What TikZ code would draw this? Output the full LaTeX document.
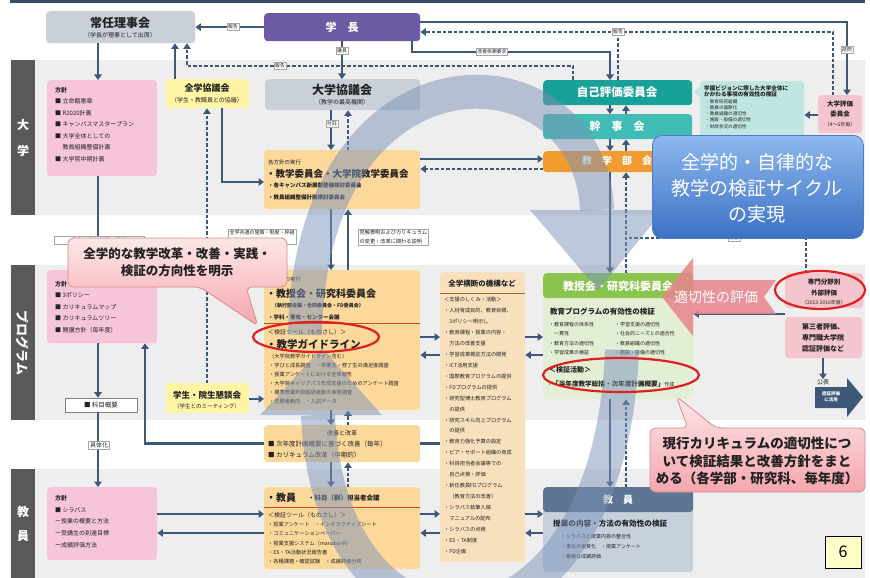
\documentclass[tikz,border=0pt]{standalone}
\usepackage{fontspec}
\setmainfont{Noto Sans CJK JP}
\usetikzlibrary{arrows.meta,shapes.geometric,calc}
\definecolor{bandbg}{HTML}{EFEEEE}
\definecolor{barc}{HTML}{58595B}
\definecolor{topc}{HTML}{3A4D66}
\definecolor{greyb}{HTML}{C9D0D8}
\definecolor{purp}{HTML}{6C5BA3}
\definecolor{yel}{HTML}{FFF5A5}
\definecolor{pinkb}{HTML}{F7C5DA}
\definecolor{orab}{HTML}{FCD89B}
\definecolor{tanb}{HTML}{F8E0BC}
\definecolor{teal1}{HTML}{18A199}
\definecolor{teal2}{HTML}{40BCB4}
\definecolor{orad}{HTML}{F29B30}
\definecolor{noteb}{HTML}{C0E6E2}
\definecolor{pink2}{HTML}{F4C5CC}
\definecolor{grh}{HTML}{8CC450}
\definecolor{grb}{HTML}{E3EFD4}
\definecolor{slh}{HTML}{5D7593}
\definecolor{slb}{HTML}{C6D1DD}
\definecolor{ac}{HTML}{3E5879}
\definecolor{cyc}{HTML}{7A92B8}
\definecolor{redl}{HTML}{E02020}
\definecolor{sepl}{HTML}{D2491E}
\definecolor{brownl}{HTML}{9C6A30}
\definecolor{txt}{HTML}{222222}
\definecolor{blueT}{HTML}{8DB9EE}
\definecolor{blueB}{HTML}{3C70C4}
\definecolor{blueE}{HTML}{4C7CC8}
\definecolor{cAt}{HTML}{FDE7E7}
\definecolor{cAb}{HTML}{F5A6AE}
\definecolor{cAe}{HTML}{D88A92}
\definecolor{tekc}{HTML}{E8848C}
\definecolor{sixc}{HTML}{FFFFC8}
\newcommand\fs[1]{\fontsize{#1}{#1}\selectfont}
\newcommand\bx[6]{\node[rbox, fill=#6, minimum width=#4pt, minimum height=#5pt, anchor=north west] (#1) at (#2,#3) {};}
\newcommand\tx[6]{\node[anchor=#4, inner sep=0pt, font=#5, text=txt] (#1) at (#2,#3) {#6};}
\tikzset{
  rbox/.style={rounded corners=3.5pt, inner sep=0pt, draw=none},
  arr/.style={draw=ac, line width=2.6pt, -{Triangle[length=5.5pt,width=7.5pt]}},
  darr/.style={arr, dash pattern=on 3.5pt off 2pt},
  ln/.style={draw=ac, line width=2.6pt},
  dln/.style={ln, dash pattern=on 3.5pt off 2pt},
  lbl/.style={fill=white, draw=gray!70, line width=0.6pt, inner sep=1.3pt, font=\fs{4.8}, text=txt},
  ell/.style={draw=redl, line width=2.2pt, ellipse, inner sep=0pt},
  lst/.style={align=left, anchor=north west, inner sep=0pt, text=txt},
}
\begin{document}
\begin{tikzpicture}[x=1pt,y=-1pt]
\useasboundingbox (0,0) rectangle (870,578);
\fill[white] (0,0) rectangle (870,578);
% top line, bands, left bars
\fill[topc] (10,0) rectangle (865,3);
\fill[bandbg] (35,60) rectangle (865,215);
\fill[bandbg] (35,265) rectangle (865,420);
\fill[bandbg] (35,469) rectangle (865,578);
\fill[barc] (11,60) rectangle (35,215);
\fill[barc] (11,265) rectangle (35,420);
\fill[barc] (11,469) rectangle (35,578);
\node[font=\fs{12}\bfseries, text=white, inner sep=0pt] (lb1) at (23,125) {大};
\node[font=\fs{12}\bfseries, text=white, inner sep=0pt] (lb2) at (23,151) {学};
\node[rotate=-90, font=\fs{13}\bfseries, text=white, inner sep=0pt] (lb3) at (23,343) {プログラム};
\node[font=\fs{12}\bfseries, text=white, inner sep=0pt] (lb4) at (23,512) {教};
\node[font=\fs{12}\bfseries, text=white, inner sep=0pt] (lb5) at (23,536) {員};

% ---------- boxes ----------
\bx{jonin}{46}{11}{149}{32}{greyb}
\bx{gakucho}{264}{13}{156}{28}{purp}
\bx{kyogikai}{265}{79}{155}{31}{greyb}
\bx{zengaku}{166}{79}{83}{29}{yel}
\bx{hoshin1}{47}{80}{110}{96}{pinkb}
\bx{kakuhoshin}{264}{150}{156}{59}{orab}
\bx{jiko}{543}{80}{149}{25}{teal1}
\bx{kanji}{543}{114}{149}{25}{teal2}
\bx{bukai}{543}{151}{149}{21}{orad}
\bx{note}{700}{81}{104}{60}{noteb}
\fill[noteb] (701,86) -- (694,92) -- (701,98) -- cycle;
\bx{hyoka}{818}{95}{44}{38}{pink2}

\bx{hoshin2}{47}{270}{110}{73}{pinkb}
\bx{gakusei}{166}{383}{83}{30}{yel}
\bx{kyojukai}{264}{270}{156}{140}{orab}
\bx{odan}{440}{272}{85}{290}{tanb}
\bx{green}{543}{273}{150}{126}{grb}
\bx{greenh}{543}{273}{150}{25}{grh}
\bx{senmon}{785}{273}{78}{35}{pink2}
\bx{daisansha}{785}{317}{77}{41}{pink2}
\bx{kaizen}{264}{425}{156}{37}{orab}

\bx{hoshin3}{47}{487}{110}{73}{pinkb}
\bx{kyoin}{264}{487}{156}{82}{orab}
\bx{kyoinR}{543}{487}{150}{85}{slb}
\bx{kyoinRh}{543}{487}{150}{25}{slh}

\node[lbl, draw=gray, minimum width=72pt, minimum height=14pt, font=\fs{6.5}] (kamoku) at (101,405) {■ 科目概要};
\tx{koho}{823}{382}{center}{\fs{6}}{公表}

% ---------- coordinates ----------
\coordinate (x98) at (98,0);
\coordinate (x145) at (145,0);
\coordinate (x175) at (175,0);
\coordinate (x187) at (187,0);
\coordinate (x207) at (207,0);
\coordinate (x222) at (222,0);
\coordinate (x331) at (331,0);
\coordinate (x342) at (342,0);
\coordinate (x348) at (348,0);
\coordinate (x412) at (412,0);
\coordinate (x573) at (573,0);
\coordinate (x610) at (610,0);
\coordinate (x618) at (618,0);
\coordinate (x626) at (626,0);
\coordinate (x806) at (806,0);
\coordinate (x823) at (823,0);
\coordinate (x833) at (833,0);
\coordinate (x847) at (847,0);
\coordinate (y22) at (0,22);
\coordinate (y32) at (0,32);
\coordinate (y52) at (0,52);
\coordinate (y66) at (0,66);
\coordinate (y115) at (0,115);
\coordinate (y159) at (0,159);
\coordinate (y169) at (0,169);
\coordinate (y182) at (0,182);
\coordinate (y238) at (0,238);
\coordinate (y293) at (0,293);
\coordinate (y323) at (0,323);
\coordinate (y337) at (0,337);
\coordinate (y355) at (0,355);
\coordinate (y399) at (0,399);
\coordinate (y507) at (0,507);
\coordinate (y514) at (0,514);
\coordinate (y533) at (0,533);
\coordinate (senmonc) at (785,314);

% ---------- connectors ----------
\draw[arr] (gakucho.west) -- (jonin.east);
\draw[arr] (x98 |- jonin.south) -- (x98 |- hoshin1.north);
\draw[arr] (x175 |- zengaku.north) -- (x175 |- jonin.south);
\draw[darr] (x573 |- jiko.north) -- (x573 |- y66) -- (x187 |- y66) -- (x187 |- jonin.south);
\draw[arr] (x342 |- gakucho.south) -- (x342 |- kyogikai.north);
\draw[arr] (x412 |- gakucho.south) -- (x412 |- y52) -- (x610 |- y52) -- (x610 |- jiko.north);
\draw[darr] (x618 |- jiko.north) -- (x618 |- y32) -- (gakucho.east |- y32);
\draw[dln] (x618 |- y32) -- (x833 |- y32) -- (x833 |- hyoka.north);
\draw[arr] (gakucho.east |- y22) -- (x847 |- y22) -- (x847 |- hyoka.north);
\draw[arr] (hyoka.west |- y115) -- (note.east |- y115);
\draw[arr] (x331 |- kyogikai.south) -- (x331 |- kakuhoshin.north);
\draw[darr] (x348 |- kakuhoshin.north) -- (x348 |- kyogikai.south);
\draw[arr] (x222 |- zengaku.south) -- (x222 |- y182) -- (kakuhoshin.west |- y182);
\draw[arr] (kakuhoshin.east |- y159) -- (bukai.west |- y159);
\draw[darr] (bukai.west |- y169) -- (kakuhoshin.east |- y169);
\draw[arr] (x610 |- jiko.south) -- (x610 |- kanji.north);
\draw[arr] (x626 |- kanji.north) -- (x626 |- jiko.south);
\draw[arr] (x610 |- kanji.south) -- (x610 |- bukai.north);
\draw[arr] (x626 |- bukai.north) -- (x626 |- kanji.south);
\draw[arr] (x610 |- bukai.south) -- (x610 |- green.north);
\draw[darr] (x626 |- green.north) -- (x626 |- bukai.south);
\draw[dln] (x806 |- senmon.north) -- (x806 |- y238) -- (x626 |- y238);
\draw[arr] (x98 |- hoshin1.south) -- (x98 |- hoshin2.north);
\draw[arr] (x331 |- kakuhoshin.south) -- (x331 |- kyojukai.north);
\draw[arr] (x348 |- kyojukai.north) -- (x348 |- kakuhoshin.south);
\draw[darr] (x207 |- gakusei.north) -- (x207 |- zengaku.south);
\draw[arr] (x98 |- hoshin2.south) -- (x98 |- kamoku.north);
\draw[arr] (x98 |- kamoku.south) -- (x98 |- hoshin3.north);
\draw[arr] (kaizen.west) -- (x145 |- kaizen.west) -- (x145 |- hoshin2.south);
\draw[ln] (kaizen.east) -- (odan.west |- kaizen.east);
\draw[arr] (gakusei.east |- y399) -- (kyojukai.west |- y399);
\draw[arr] (kyojukai.east |- y337) -- (odan.west |- y337);
\draw[arr] (odan.west |- y355) -- (kyojukai.east |- y355);
\draw[arr] (odan.east |- y337) -- (green.west |- y337);
\draw[arr] (green.west |- y355) -- (odan.east |- y355);
\draw[arr] (x331 |- kyojukai.south) -- (x331 |- kaizen.north);
\draw[darr] (x348 |- kaizen.north) -- (x348 |- kyojukai.south);
\draw[arr] (x331 |- kaizen.south) -- (x331 |- kyoin.north);
\draw[darr] (x348 |- kyoin.north) -- (x348 |- kaizen.south);
\draw[arr] (hoshin3.east |- y514) -- (kyoin.west |- y514);
\draw[arr] (kyoin.west |- y533) -- (hoshin3.east |- y533);
\draw[arr] (kyoin.east |- y514) -- (odan.west |- y514);
\draw[arr] (odan.west |- y533) -- (kyoin.east |- y533);
\draw[arr] (odan.east |- y514) -- (kyoinR.west |- y514);
\draw[arr] (kyoinR.west |- y533) -- (odan.east |- y533);
\draw[arr] (x610 |- green.south) -- (x610 |- kyoinR.north);
\draw[darr] (x626 |- kyoinR.north) -- (x626 |- green.south);
\draw[arr] (senmonc) -- (green.east |- senmonc);
\draw[arr] (x823 |- daisansha.south) -- (koho.north);

% labels on connectors
\node[lbl] (l1) at (233,27) {報告};
\node[lbl] (l2) at (342,51) {議長};
\node[lbl] (l3) at (280,66) {報告};
\node[lbl] (l4) at (492,52) {改善依頼要求};
\node[lbl] (l5) at (618,32) {報告};
\node[lbl] (l6) at (847,50) {諮問};
\node[lbl] (l7) at (332,124) {付託};
\node[lbl] (l8) at (734,238) {報告};
\node[lbl, align=left, anchor=north west, font=\fontsize{5}{8}\selectfont] (l9) at (228,229) {全学共通の施策・制度・枠組\\の検討};
\node[lbl, align=left, anchor=north west, font=\fontsize{5.2}{9}\selectfont] (l10) at (358,229) {見解表明およびカリキュラム\\の変更・改革に関わる説明};
\node[lbl, minimum width=90pt, font=\fs{5.5}] (l11) at (99,240) {多様な教学施策の検討};
\node[lbl, font=\fs{6}] (l12) at (99,445) {具体化};

% ---------- texts ----------
\tx{t1}{120}{23}{center}{\fs{12}\bfseries}{常任理事会}
\tx{t2}{120}{35}{center}{\fs{6}}{（学長が理事として出席）}
\tx{t3}{342}{27}{center}{\fs{11}\bfseries}{\textcolor{white}{学　長}}
\tx{t4}{342}{90}{center}{\fs{12}\bfseries}{大学協議会}
\tx{t5}{342}{102}{center}{\fs{6}}{（教学の最高機関）}
\tx{t6}{207}{88}{center}{\fs{9}\bfseries}{全学協議会}
\tx{t7}{207}{100}{center}{\fs{6}}{（学生・教職員との協議）}
\node[lst, font=\fontsize{6}{11.5}\selectfont] (t8) at (55,87) {{\bfseries 方針}\\■ 立命館憲章\\■ R2020計画\\■ キャンパスマスタープラン\\■ 大学全体としての\\\phantom{■ }教員組織整備計画\\■ 大学院中期計画};
\tx{t10}{268}{162}{west}{\fs{5.5}}{各方針の実行}
\tx{t11}{266}{174}{west}{\fs{9.5}\bfseries}{・教学委員会・大学院教学委員会}
\tx{t12}{268}{185}{west}{\fs{5.5}\bfseries}{・各キャンパス新展開整備検討委員会}
\tx{t13}{268}{197}{west}{\fs{5.5}\bfseries}{・教員組織整備計画検討委員会}
\tx{t14}{617}{92}{center}{\fs{11.5}\bfseries}{\textcolor{white}{自己評価委員会}}
\tx{t15}{617}{126}{center}{\fs{11}\bfseries}{\textcolor{white}{幹　事　会}}
\tx{t16}{617}{161}{center}{\fs{10}\bfseries}{\textcolor{white}{教　学　部　会}}
\node[lst, font=\fontsize{5.6}{6.4}\selectfont\bfseries] (t17) at (704,85) {学園ビジョンに照した大学全体に\\かかわる事項の有効性の検証};
\node[lst, font=\fontsize{4.6}{6.3}\selectfont] (t18) at (705,99) {・教育研究組織\\・教員の国際化\\・教員組織の適切性\\・施設・設備の適切性\\・財政状況の適切性};
\tx{t19}{840}{104}{center}{\fs{6.5}\bfseries}{大学評価}
\tx{t20}{840}{114}{center}{\fs{6.5}\bfseries}{委員会}
\tx{t21}{840}{125}{center}{\fs{5}}{（4〜6年毎）}

\node[lst, font=\fontsize{6}{11.5}\selectfont] (t22) at (55,281) {{\bfseries 方針}\\■ 3ポリシー\\■ カリキュラムマップ\\■ カリキュラムツリー\\■ 開講方針（毎年度）};
\tx{t23}{207}{395}{center}{\fs{8.5}\bfseries}{学生・院生懇談会}
\tx{t24}{207}{406}{center}{\fs{5.5}}{（学生とのミーティング）}
\tx{t25}{268}{279}{west}{\fs{5.5}}{各方針の実行}
\tx{t26}{266}{294}{west}{\fs{10}\bfseries}{・教授会・研究科委員会}
\tx{t27}{272}{306}{west}{\fs{5}\bfseries}{（執行部会議・合同委員会・FD委員会）}
\tx{t28}{268}{317}{west}{\fs{5.5}\bfseries}{・学科・専攻・センター会議}
\draw[sepl, line width=1pt] (kyojukai.west |- y323) -- (kyojukai.east |- y323);
\tx{t29}{268}{332}{west}{\fs{6}}{＜検証ツール（ものさし）＞}
\tx{t30}{266}{345}{west}{\fs{10.5}\bfseries}{・教学ガイドライン}
\node[lst, font=\fontsize{5.2}{9}\selectfont] (t31) at (269,354) {（大学院教学ガイドライン含む）\\・学びと成長調査　・卒業生・修了生の満足度調査\\・授業アンケートにおける全体報告\\・大学院キャリアパス形成支援のためのアンケート調査\\・標準修業年限超過者数の実態調査\\・志願者動向　・入試データ};
\tx{t32}{482}{284}{center}{\fs{7.5}\bfseries}{全学横断の機構など}
\draw[brownl, line width=0.8pt] (odan.west |- y293) -- (odan.east |- y293);
\node[lst, font=\fontsize{5.2}{10.95}\selectfont] (t33) at (444,297) {＜支援のしくみ・活動＞\\・人材育成目的、教育目標、\\\phantom{・}3ポリシー明示し\\・教育課程・授業の内容・\\\phantom{・}方法の改善支援\\・学習成果検証方法の開発\\・ICT活用支援\\・国際教育プログラムの提供\\・FDプログラムの提供\\・研究型博士教育プログラム\\\phantom{・}の提供\\・研究スキル向上プログラム\\\phantom{・}の提供\\・教育力強化予算の設定\\・ピア・サポート組織の育成\\・科目担当者会議等での\\\phantom{・}自己点検・評価\\・新任教員FDプログラム\\\phantom{・}（教育方法の改善）\\・シラバス執筆入稿\\\phantom{・}マニュアルの配布\\・シラバスの点検\\・ES・TA制度\\・FD企画};
\tx{t34}{618}{286}{center}{\fs{11}\bfseries}{\textcolor{white}{教授会・研究科委員会}}
\tx{t35}{550}{312}{west}{\fs{7.5}\bfseries}{教育プログラムの有効性の検証}
\node[lst, font=\fontsize{5}{9.3}\selectfont] (t36) at (549,322) {・教育課程の体系性\\\phantom{・}一貫性\\・教育方法の適切性\\・学習成果の検証};
\node[lst, font=\fontsize{5}{9.3}\selectfont] (t37) at (615,322) {・学習支援の適切性\\・社会的ニーズとの適合性\\・教員組織の適切性\\・施設・設備の適切性};
\tx{t38}{549}{370}{west}{\fs{7}\bfseries}{＜検証活動＞}
\tx{t39}{547}{384}{west}{\fs{5}}{・{\fs{6.6}\bfseries「当年度教学総括・次年度計画概要」}作成}
\tx{t40}{824}{282}{center}{\fs{6.5}\bfseries}{専門分野別}
\tx{t41}{824}{293}{center}{\fs{6.5}\bfseries}{外部評価}
\tx{t42}{824}{303}{center}{\fs{5}}{（2013-2016年度）}
\tx{t43}{823}{327}{center}{\fs{7}\bfseries}{第三者評価、}
\tx{t44}{823}{338}{center}{\fs{7}\bfseries}{専門職大学院}
\tx{t45}{823}{349}{center}{\fs{7}\bfseries}{認証評価など}
\fill[ac] (815,387) -- (847,387) -- (847,378) -- (863,397) -- (847,417) -- (847,408) -- (815,408) -- cycle;
\node[align=center, font=\fontsize{4.5}{6}\selectfont\bfseries, text=white, inner sep=0pt] (nin) at (831,397) {認証評価\\に活用};
\tx{t46}{342}{433}{center}{\fs{6}}{改善と改革}
\tx{t47}{268}{444}{west}{\fs{6.5}}{■ 次年度計画概要に基づく改善（毎年）}
\tx{t48}{268}{455}{west}{\fs{6.5}}{■ カリキュラム改革（中期的）}

\node[lst, font=\fontsize{6}{11.8}\selectfont] (t49) at (55,495) {{\bfseries 方針}\\■ シラバス\\ー授業の概要と方法\\ー受講生の到達目標\\ー成績評価方法};
\tx{t50}{266}{498}{west}{\fs{10}\bfseries}{・教員}
\tx{t51}{308}{498}{west}{\fs{6.5}\bfseries}{・科目（群）担当者会議}
\draw[sepl, line width=1pt] (kyoin.west |- y507) -- (kyoin.east |- y507);
\tx{t52}{268}{515}{west}{\fs{6}}{＜検証ツール（ものさし）＞}
\node[lst, font=\fontsize{5.2}{9.2}\selectfont] (t53) at (268,522) {・授業アンケート　・インタラクティブシート\\・コミュニケーションペーパー\\・授業支援システム（manaba+R）\\・ES・TA活動状況報告書\\・各種課題・確認試験　・成績評価分布};
\tx{t54}{618}{500}{center}{\fs{10}\bfseries}{\textcolor{white}{教　員}}
\tx{t55}{553}{524}{west}{\fs{7.6}\bfseries}{授業の内容・方法の有効性の検証}
\node[lst, font=\fontsize{5}{10}\selectfont] (t56) at (561,534) {・シラバスと授業内容の整合性\\・単位の実質化　・授業アンケート\\・厳格な成績評価};
\node[draw=black, fill=sixc, line width=0.8pt, minimum width=36pt, minimum height=32pt, font=\fs{16}, inner sep=0pt] (six) at (843,552) {6};

% ---------- cycle band ----------
\begin{scope}[opacity=0.5]
\draw[cyc, line width=34pt] (305,335) .. controls (310,30) and (590,40) .. (597,210);
\fill[cyc] (530,210) -- (664,210) -- (598,290) -- cycle;
\draw[cyc, line width=34pt] (622,350) .. controls (610,680) and (330,690) .. (318,415);
\fill[cyc] (260,415) -- (382,415) -- (322,348) -- cycle;
\end{scope}

% ---------- red ellipses ----------
\node[ell, minimum width=126pt, minimum height=30pt] (e1) at (316,337) {};
\node[ell, minimum width=156pt, minimum height=34pt] (e2) at (621,375) {};
\node[ell, minimum width=90pt, minimum height=38pt] (e3) at (820,290) {};

% ---------- tekisetsu arrow ----------
\fill[tekc, opacity=0.85] (662,297) -- (693,258) -- (693,280) -- (776,280) -- (764,297) -- (776,314) -- (693,314) -- (693,336) -- cycle;
\node[font=\fs{14}, text=white, inner sep=0pt] (tekt) at (716,297) {適切性の評価};

% ---------- callouts ----------
\path[draw=cAe, line width=0.8pt, top color=cAt, bottom color=cAb, rounded corners=6pt] (68,238) -- (287,238) -- (287,287) -- (246,287) -- (258,326) -- (200,287) -- (68,287) -- cycle;
\node[align=center, font=\fontsize{12.5}{17}\selectfont\bfseries, text=txt, inner sep=0pt] (c1t) at (177,262) {全学的な教学改革・改善・実践・\\検証の方向性を明示};
\path[draw=cAe, line width=0.8pt, top color=cAt, bottom color=cAb, rounded corners=6pt] (650,428) -- (688,428) -- (676,396) -- (716,428) -- (865,428) -- (865,492) -- (650,492) -- cycle;
\node[align=center, font=\fontsize{13.5}{17.5}\selectfont\bfseries, text=txt, inner sep=0pt] (c2t) at (757,461) {現行カリキュラムの適切性につ\\いて検証結果と改善方針をまと\\める（各学部・研究科、毎年度）};

\node[rbox, rounded corners=10pt, top color=blueT, bottom color=blueB, draw=blueE, line width=0.8pt, minimum width=211pt, minimum height=103pt, anchor=north west] (bigc) at (652,135) {};
\node[align=center, font=\fontsize{19}{26}\selectfont, text=white, inner sep=0pt] (bigt) at (757,188) {全学的・自律的な\\教学の検証サイクル\\の実現};
\end{tikzpicture}
\end{document}
